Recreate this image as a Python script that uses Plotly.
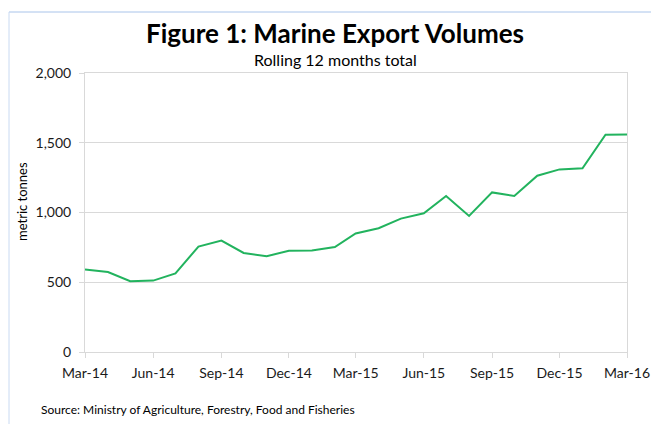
import plotly.graph_objects as go

months = ["2014-03", "2014-04", "2014-05", "2014-06", "2014-07", "2014-08", "2014-09",
          "2014-10", "2014-11", "2014-12", "2015-01", "2015-02", "2015-03", "2015-04",
          "2015-05", "2015-06", "2015-07", "2015-08", "2015-09", "2015-10", "2015-11",
          "2015-12", "2016-01", "2016-02", "2016-03"]
volumes = [592, 573, 507, 512, 563, 756, 799, 710, 687, 725, 728, 752, 850, 887,
           956, 994, 1118, 975, 1144, 1118, 1264, 1309, 1317, 1557, 1560]
tick_vals = ["2014-03", "2014-06", "2014-09", "2014-12", "2015-03", "2015-06",
             "2015-09", "2015-12", "2016-03"]
tick_text = ["Mar-14", "Jun-14", "Sep-14", "Dec-14", "Mar-15", "Jun-15",
             "Sep-15", "Dec-15", "Mar-16"]
y_ticks = [0, 500, 1000, 1500, 2000]

FONT = "Lato"
GRID = "#d9d9d9"
W, H = 651, 424
L, R, T, B = 85, 24, 73, 72
PW, PH = W - L - R, H - T - B


def px(xp):
    return (xp - L) / PW


def py(yp):
    return (H - B - yp) / PH


fig = go.Figure()
fig.add_trace(go.Scatter(x=months, y=volumes, mode="lines",
                         line=dict(color="#22b35e", width=2), hoverinfo="x+y"))

fig.update_layout(
    width=W, height=H,
    margin=dict(l=L, r=R, t=T, b=B),
    paper_bgcolor="white", plot_bgcolor="white",
    showlegend=False,
    font=dict(family=FONT, color="#000000", size=14),
    xaxis=dict(
        type="date", range=["2014-03-01", "2016-03-01"], automargin=False,
        tickvals=tick_vals, ticktext=tick_text,
        showgrid=False, showline=True, linecolor=GRID, linewidth=1, mirror=True,
        ticks="outside", ticklen=5, tickcolor=GRID, ticklabelstandoff=3,
        tickfont=dict(size=14, family=FONT, color="#1a1a1a"), zeroline=False,
    ),
    yaxis=dict(
        range=[0, 2000], tickvals=y_ticks, tickformat=",", automargin=False,
        showgrid=True, gridcolor=GRID, gridwidth=1,
        showline=True, linecolor=GRID, linewidth=1, mirror=True,
        ticks="outside", ticklen=5, tickcolor=GRID, ticklabelstandoff=5,
        tickfont=dict(size=14, family=FONT, color="#1a1a1a"), zeroline=False,
    ),
)

fig.add_annotation(text="<b>Figure 1: Marine Export Volumes</b>", xref="paper", yref="paper",
                   x=px(335), y=py(33), showarrow=False,
                   font=dict(size=26, family=FONT), xanchor="center", yanchor="middle")
fig.add_annotation(text="Rolling 12 months total", xref="paper", yref="paper",
                   x=px(335), y=py(60), showarrow=False,
                   font=dict(size=16, family=FONT), xanchor="center", yanchor="middle")
fig.add_annotation(text="metric tonnes", xref="paper", yref="paper",
                   x=px(22), y=py(202), showarrow=False, textangle=-90,
                   font=dict(size=13, family=FONT), xanchor="center", yanchor="middle")
fig.add_annotation(text="Source: Ministry of Agriculture, Forestry, Food and Fisheries",
                   xref="paper", yref="paper",
                   x=px(39), y=py(409), showarrow=False,
                   font=dict(size=12, family=FONT), xanchor="left", yanchor="middle")

# outer frame (top and left edges)
fig.add_shape(type="line", xref="paper", yref="paper",
              x0=px(9), x1=px(651), y0=py(12), y1=py(12),
              line=dict(color="#a9c4ea", width=1))
fig.add_shape(type="line", xref="paper", yref="paper",
              x0=px(9), x1=px(9), y0=py(12), y1=py(424),
              line=dict(color="#c9daf2", width=1))

fig.write_html("out.html", config={"displayModeBar": False},
               post_script="document.body.style.margin='0';document.body.style.padding='0';")
